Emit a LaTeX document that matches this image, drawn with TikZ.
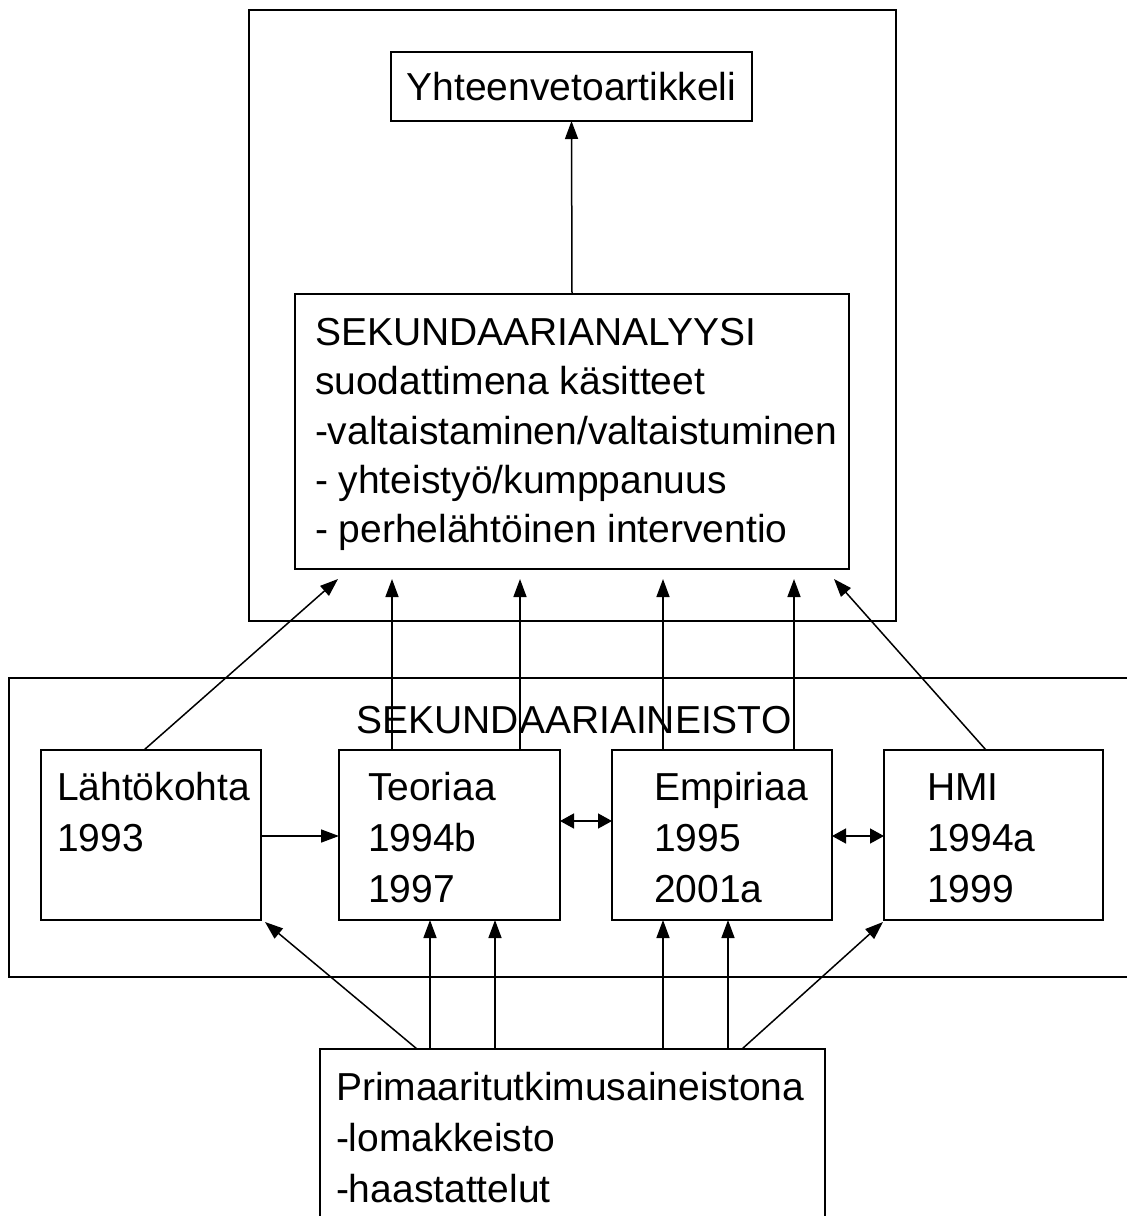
\documentclass[tikz,border=0pt]{standalone}
\usepackage{fontspec}
\setmainfont{Liberation Sans}
\usetikzlibrary{arrows.meta}
\begin{document}
\begin{tikzpicture}[x=1pt,y=-1pt,
  box/.style={draw, line width=2pt, inner sep=0pt, outer sep=0pt, anchor=north west},
  txt/.style={anchor=base west, inner sep=0pt, outer sep=0pt},
  arr/.style={line width=1.5pt, -{Triangle[length=18pt,width=13pt]}},
  darr/.style={line width=1.5pt, {Triangle[length=14pt,width=15pt]}-{Triangle[length=14pt,width=15pt]}},
  every node/.style={font=\fontsize{39}{47}\selectfont}
]
\useasboundingbox (0,0) rectangle (1127,1216);
\clip (0,0) rectangle (1127,1216);

% upper frame: analysis and summary article
\node[box, minimum width=647pt, minimum height=611pt] (frame) at (249,10) {};
\node[box, minimum width=361pt, minimum height=69pt] (yht) at (391,52) {Yhteenvetoartikkeli};
\node[box, minimum width=554pt, minimum height=275pt] (ana) at (295,294) {};
\node[txt] (a1) at (315,345) {SEKUNDAARIANALYYSI};
\node[txt] (a2) at (315,394) {suodattimena käsitteet};
\node[txt] (a3) at (315,444) {-valtaistaminen/valtaistuminen};
\node[txt] (a4) at (315,493) {- yhteistyö/kumppanuus};
\node[txt] (a5) at (315,542) {- perhelähtöinen interventio};

% secondary material band
\node[box, minimum width=1140pt, minimum height=299pt] (sek) at (9,678) {};
\node[anchor=base, inner sep=0pt] (sekt) at (574,733) {SEKUNDAARIAINEISTO};

\node[box, minimum width=220pt, minimum height=170pt] (L) at (41,750) {};
\node[box, minimum width=221pt, minimum height=170pt] (T) at (339,750) {};
\node[box, minimum width=220pt, minimum height=170pt] (E) at (612,750) {};
\node[box, minimum width=219pt, minimum height=170pt] (H) at (884,750) {};

\node[txt] (l1) at (57,800) {Lähtökohta};
\node[txt] (l2) at (57,851) {1993};
\node[txt] (t1) at (368,800) {Teoriaa};
\node[txt] (t2) at (368,851) {1994b};
\node[txt] (t3) at (368,902) {1997};
\node[txt] (e1) at (654,800) {Empiriaa};
\node[txt] (e2) at (654,851) {1995};
\node[txt] (e3) at (654,902) {2001a};
\node[txt] (h1) at (927,800) {HMI};
\node[txt] (h2) at (927,851) {1994a};
\node[txt] (h3) at (927,902) {1999};

% primary research material
\node[box, minimum width=505pt, minimum height=200pt] (P) at (320,1049) {};
\node[txt] (p1) at (336,1100) {Primaaritutkimusaineistona};
\node[txt] (p2) at (336,1151) {-lomakkeisto};
\node[txt] (p3) at (336,1202) {-haastattelut};

% arrow endpoints just below the analysis box
\coordinate (in1) at (338,579);
\coordinate (in2) at (392,579);
\coordinate (in3) at (520,579);
\coordinate (in4) at (663,579);
\coordinate (in5) at (794,579);
\coordinate (in6) at (834,579);
\coordinate (lcorner) at (265,922);
\coordinate (hcorner) at (883,922);

% connectors
\draw[arr] (ana.north) -- (yht.south);

\draw[arr] (L.north -| 144,0) -- (in1);
\draw[arr] (T.north -| 392,0) -- (in2);
\draw[arr] (T.north -| 520,0) -- (in3);
\draw[arr] (E.north -| 663,0) -- (in4);
\draw[arr] (E.north -| 794,0) -- (in5);
\draw[arr] (H.north -| 986,0) -- (in6);

\draw[arr] (L.east |- 0,836) -- (T.west |- 0,836);
\draw[darr] (T.east |- 0,821) -- (E.west |- 0,821);
\draw[darr] (E.east |- 0,836) -- (H.west |- 0,836);

\draw[arr] (P.north -| 417,0) -- (lcorner);
\draw[arr] (P.north -| 430,0) -- (T.south -| 430,0);
\draw[arr] (P.north -| 495,0) -- (T.south -| 495,0);
\draw[arr] (P.north -| 663,0) -- (E.south -| 663,0);
\draw[arr] (P.north -| 728,0) -- (E.south -| 728,0);
\draw[arr] (P.north -| 742,0) -- (hcorner);
\end{tikzpicture}
\end{document}
